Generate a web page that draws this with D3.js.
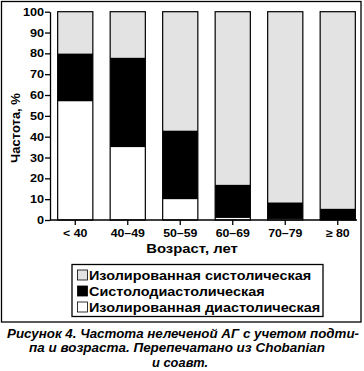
<!DOCTYPE html>
<html>
<head>
<meta charset="utf-8">
<script src="https://cdn.jsdelivr.net/npm/d3@7"></script>
<style>
  body { margin: 0; background: #fff; }
  svg { font-family: "Liberation Sans", Arial, sans-serif; }
</style>
</head>
<body>
<div class="plot1"></div>
<script>
// age groups
var ages = ["< 40", "40\u201349", "50\u201359", "60\u201369", "70\u201379", "\u2265 80"];
// percent of patients by subtype
var diastolic = [57, 35, 10, 1, 0.5, 0];
var systDiast = [23, 43, 33, 16, 8, 5.5];
var systolic = [20, 22, 57, 83, 91.5, 94.5];

var yTicks = [0, 10, 20, 30, 40, 50, 60, 70, 80, 90, 100];
var legendLabels = ["Изолированная систолическая", "Систолодиастолическая", "Изолированная диастолическая"];
var colors = ["#e3e3e3", "#000000", "#ffffff"];
var captionLines = [
  "Рисунок 4. Частота нелеченой АГ с учетом подти-",
  "па и возраста. Перепечатано из Chobanian",
  "и соавт."
];

// the original type is wider than Liberation Sans, stretch it a bit
function stretch(sel, k) {
  sel.attr("textLength", function() { return this.getComputedTextLength() * k; })
    .attr("lengthAdjust", "spacingAndGlyphs");
}

function plotBars() {
  var width = 364;
  var height = 371;

  var svg = d3.select(".plot1").append("svg")
    .attr("width", width)
    .attr("height", height);

  // outer frame
  svg.append("rect")
    .attr("x", 1.5).attr("y", 1.5)
    .attr("width", 359.5).attr("height", 320.5)
    .attr("fill", "none")
    .attr("stroke", "#000")
    .attr("stroke-width", 1.3);

  var x = d3.scaleBand()
    .domain(ages)
    .range([49, 364])
    .paddingInner(0.33)
    .paddingOuter(0.165);

  var y = d3.scaleLinear()
    .domain([0, 100])
    .range([220, 11.7]);

  // stack the three subtypes, bottom to top
  var rows = ages.map(function(a, i) {
    return { age: a, dia: diastolic[i], sd: systDiast[i], sys: systolic[i] };
  });
  var stack = d3.stack().keys(["dia", "sd", "sys"]);
  var series = stack(rows);
  var fills = { dia: colors[2], sd: colors[1], sys: colors[0] };

  svg.append("g")
    .selectAll("g")
    .data(series)
    .join("g")
    .attr("fill", function(s) { return fills[s.key]; })
    .selectAll("rect")
    .data(function(s) { return s; })
    .join("rect")
    .attr("x", function(d) { return x(d.data.age); })
    .attr("y", function(d) { return y(d[1]); })
    .attr("width", x.bandwidth())
    .attr("height", function(d) { return y(d[0]) - y(d[1]); });

  // bar outlines
  svg.append("g")
    .selectAll("rect")
    .data(ages)
    .join("rect")
    .attr("x", function(d) { return x(d); })
    .attr("y", y(100))
    .attr("width", x.bandwidth())
    .attr("height", y(0) - y(100))
    .attr("fill", "none")
    .attr("stroke", "#000")
    .attr("stroke-width", 1.2);

  // y axis
  var yAxis = svg.append("g")
    .attr("transform", "translate(50,0)")
    .call(d3.axisLeft(y).tickValues(yTicks).tickSize(5).tickSizeOuter(0).tickPadding(1));
  yAxis.selectAll("path, line").attr("stroke", "#000").attr("stroke-width", 1.3);
  yAxis.selectAll("text")
    .style("font-size", "11px")
    .style("font-weight", "bold")
    .attr("fill", "#000")
    .call(stretch, 1.15);

  // x axis
  var xAxis = svg.append("g")
    .attr("transform", "translate(0,220)")
    .call(d3.axisBottom(x).tickSize(5).tickPadding(4));
  xAxis.select(".domain").remove();
  xAxis.selectAll("line").attr("stroke", "#000").attr("stroke-width", 1.3);
  xAxis.selectAll("text")
    .style("font-size", "11px")
    .style("font-weight", "bold")
    .attr("fill", "#000")
    .call(stretch, 1.12);
  svg.append("line")
    .attr("x1", 50).attr("x2", 357)
    .attr("y1", 220).attr("y2", 220)
    .attr("stroke", "#000")
    .attr("stroke-width", 1.3);

  // axis titles
  svg.append("text")
    .attr("x", 192).attr("y", 253)
    .attr("text-anchor", "middle")
    .style("font-size", "13.5px")
    .style("font-weight", "bold")
    .text("Возраст, лет")
    .call(stretch, 1.1);

  svg.append("text")
    .attr("transform", "translate(20,128) rotate(-90)")
    .attr("text-anchor", "middle")
    .style("font-size", "13px")
    .style("font-weight", "bold")
    .text("Частота, %");

  // legend
  svg.append("rect")
    .attr("x", 72).attr("y", 264.5)
    .attr("width", 251).attr("height", 52)
    .attr("fill", "none")
    .attr("stroke", "#000")
    .attr("stroke-width", 1.3);

  var legend = svg.append("g")
    .selectAll("g")
    .data(legendLabels)
    .join("g")
    .attr("transform", function(d, i) { return "translate(77," + (275 + i * 16) + ")"; });

  legend.append("rect")
    .attr("x", 0.5).attr("y", -5)
    .attr("width", 10).attr("height", 10)
    .attr("fill", function(d, i) { return colors[i]; })
    .attr("stroke", "#000")
    .attr("stroke-width", 0.8);

  legend.append("text")
    .attr("x", 12)
    .attr("dy", "0.36em")
    .style("font-size", "13px")
    .style("font-weight", "bold")
    .text(function(d) { return d; })
    .call(stretch, 1.11);

  var capX = [183, 177, 180];
  var capW = [352, 296, 56];
  svg.append("g")
    .selectAll("text")
    .data(captionLines)
    .join("text")
    .attr("x", function(d, i) { return capX[i]; })
    .attr("y", function(d, i) { return 337.5 + i * 14.5; })
    .attr("text-anchor", "middle")
    .attr("textLength", function(d, i) { return capW[i]; })
    .attr("lengthAdjust", "spacingAndGlyphs")
    .style("font-size", "12px")
    .style("font-weight", "bold")
    .style("font-style", "italic")
    .text(function(d) { return d; });
}

plotBars();
</script>
</body>
</html>
